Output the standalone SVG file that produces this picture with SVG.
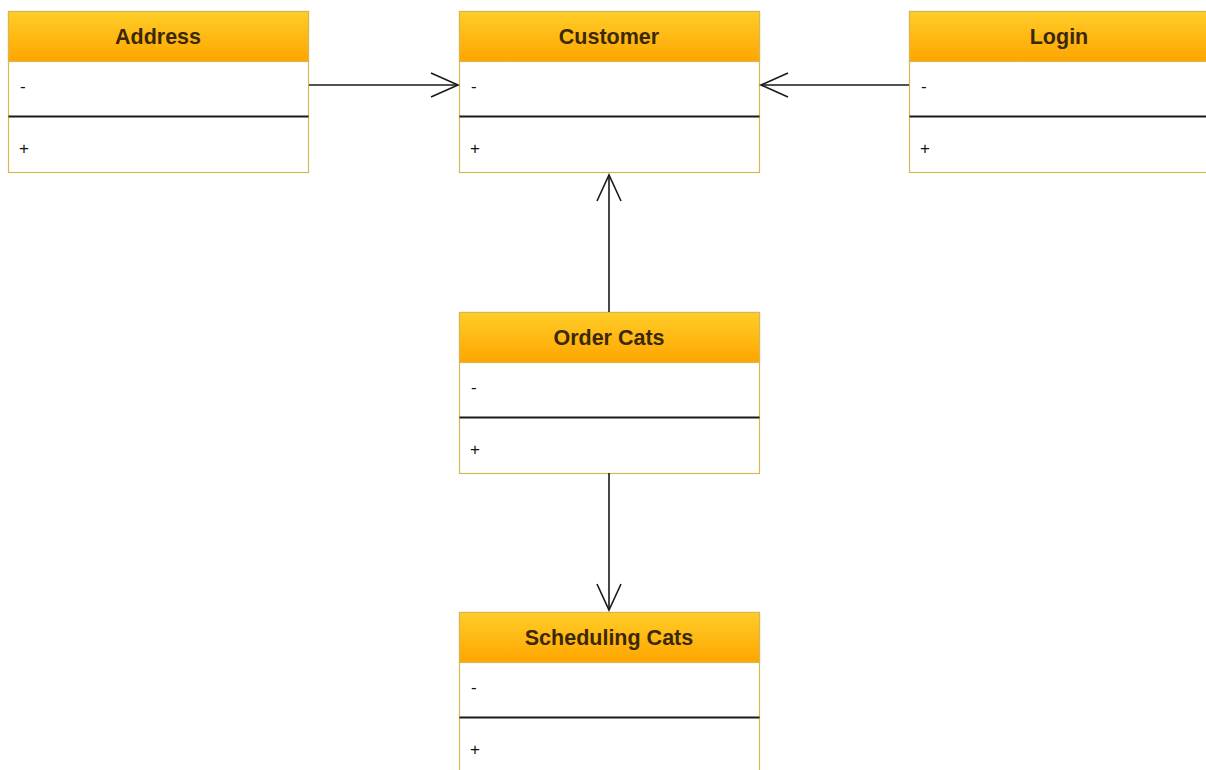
<svg xmlns="http://www.w3.org/2000/svg" width="1206" height="770" viewBox="0 0 1206 770">
<style>
.body{fill:#ffffff;stroke:#d6b656;stroke-width:1.2}
.head{fill:url(#hg);stroke:#d6b656;stroke-width:1.2}
.div{stroke:#1a1a1a;stroke-width:1.8}
.title{font-family:"Liberation Sans",Arial,sans-serif;font-size:21.5px;font-weight:bold;fill:#3b2806;text-anchor:middle}
.mem{font-family:"Liberation Sans",Arial,sans-serif;font-size:17px;fill:#111}
.conn{stroke:#1a1a1a;stroke-width:1.6;fill:none}
</style>
<defs>
<linearGradient id="hg" x1="0" y1="0" x2="0" y2="1">
<stop offset="0" stop-color="#ffcd28"/>
<stop offset="1" stop-color="#ffa500"/>
</linearGradient>
</defs>
<rect width="1206" height="770" fill="#ffffff"/>
<g id="address">
<rect class="body" x="8.5" y="11.5" width="300" height="161"/>
<rect class="head" x="8.5" y="11.5" width="300" height="50"/>
<text class="title" x="158" y="44">Address</text>
<text class="mem" x="20" y="92">-</text>
<line class="div" x1="8.5" y1="116.5" x2="308.5" y2="116.5"/>
<text class="mem" x="19" y="154">+</text>
</g>
<g id="customer">
<rect class="body" x="459.5" y="11.5" width="300" height="161"/>
<rect class="head" x="459.5" y="11.5" width="300" height="50"/>
<text class="title" x="609" y="44">Customer</text>
<text class="mem" x="471" y="92">-</text>
<line class="div" x1="459.5" y1="116.5" x2="759.5" y2="116.5"/>
<text class="mem" x="470" y="154">+</text>
</g>
<g id="login">
<rect class="body" x="909.5" y="11.5" width="310" height="161"/>
<rect class="head" x="909.5" y="11.5" width="310" height="50"/>
<text class="title" x="1059" y="44">Login</text>
<text class="mem" x="921" y="92">-</text>
<line class="div" x1="909.5" y1="116.5" x2="1219.5" y2="116.5"/>
<text class="mem" x="920" y="154">+</text>
</g>
<g id="order-cats">
<rect class="body" x="459.5" y="312.5" width="300" height="161"/>
<rect class="head" x="459.5" y="312.5" width="300" height="50"/>
<text class="title" x="609" y="345">Order Cats</text>
<text class="mem" x="471" y="393">-</text>
<line class="div" x1="459.5" y1="417.5" x2="759.5" y2="417.5"/>
<text class="mem" x="470" y="455">+</text>
</g>
<g id="scheduling-cats">
<rect class="body" x="459.5" y="612.5" width="300" height="170"/>
<rect class="head" x="459.5" y="612.5" width="300" height="50"/>
<text class="title" x="609" y="645">Scheduling Cats</text>
<text class="mem" x="471" y="693">-</text>
<line class="div" x1="459.5" y1="717.5" x2="759.5" y2="717.5"/>
<text class="mem" x="470" y="755">+</text>
</g>
<g id="connectors">
<path class="conn" d="M309 85 H458"/>
<path class="conn" d="M431 73 L458 85 L431 97"/>
<path class="conn" d="M909 85 H761"/>
<path class="conn" d="M788 73 L761 85 L788 97"/>
<path class="conn" d="M609 312 V175"/>
<path class="conn" d="M597 201 L609 175 L621 201"/>
<path class="conn" d="M609 473 V610"/>
<path class="conn" d="M597 584 L609 610 L621 584"/>
</g>
</svg>
